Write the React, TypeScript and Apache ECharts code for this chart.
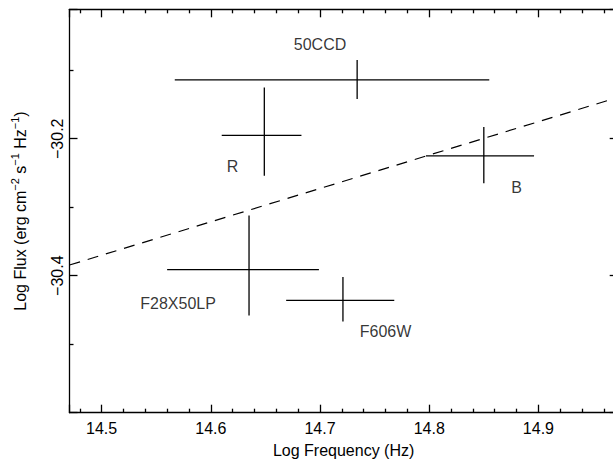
import React, { useEffect, useRef } from "react";
import * as echarts from "echarts";

// Photometric points (log frequency, log flux) with error bars
const pointNames = ["50CCD", "R", "B", "F28X50LP", "F606W"];
const pointX = [14.734, 14.649, 14.85, 14.635, 14.721];
const pointY = [-30.114, -30.195, -30.225, -30.391, -30.436];
const xErrLow = [14.567, 14.61, 14.797, 14.56, 14.669];
const xErrHigh = [14.855, 14.683, 14.896, 14.699, 14.768];
const yErrLow = [-30.142, -30.254, -30.265, -30.458, -30.467];
const yErrHigh = [-30.085, -30.125, -30.183, -30.312, -30.402];

// label anchors (data coordinates)
const labelX = [14.7, 14.62, 14.88, 14.57, 14.76];
const labelY = [-30.063, -30.24, -30.271, -30.44, -30.481];

// dashed model line
const modelX = [14.4706, 14.9726];
const modelY = [-30.3844, -30.1397];

// axes
const xMin = 14.4706;
const xMax = 14.9726;
const yMin = -30.6;
const yMax = -30.011;
const xTickLabels = [14.5, 14.6, 14.7, 14.8, 14.9];
const yTickLabels = [-30.2, -30.4];

const FONT = "Liberation Sans";

export default function App() {
  const ref = useRef<HTMLDivElement>(null);
  useEffect(() => {
    document.body.style.margin = "0";
    const chart = echarts.init(ref.current!, null, { renderer: "svg" });
    const errData = pointNames.map((n, i) => [
      pointX[i], pointY[i], xErrLow[i], xErrHigh[i], yErrLow[i], yErrHigh[i],
    ]);
    const labelData = pointNames.map((n, i) => ({ name: n, value: [labelX[i], labelY[i]] }));
    const axisLine = { show: true, lineStyle: { color: "#000", width: 1.3 } };
    const xTickFmt = (v: number) =>
      xTickLabels.some((t) => Math.abs(t - v) < 1e-6) ? v.toFixed(1) : "";
    const yTickFmt = (v: number) =>
      yTickLabels.some((t) => Math.abs(t - v) < 1e-6) ? "\u2212" + Math.abs(v).toFixed(1) : "";
    const tick = { show: true, inside: true, length: 8, lineStyle: { color: "#000", width: 1.3 } };
    const minor = { show: true, length: 4, lineStyle: { color: "#000", width: 1.3 } };
    const common = {
      type: "value" as const,
      splitLine: { show: false },
      minorSplitLine: { show: false },
      axisLine,
    };
    chart.setOption({
      animation: false,
      backgroundColor: "#fff",
      grid: {
        left: 69.5,
        top: 9.3,
        width: 548.2,
        height: 403.4,
        containLabel: false,
        outerBoundsMode: "none",
      },
      xAxis: [
        {
          ...common,
          position: "bottom",
          min: xMin,
          max: xMax,
          minInterval: 0.1,
          maxInterval: 0.1,
          axisTick: tick,
          minorTick: { ...minor, splitNumber: 5 },
          axisLabel: {
            show: true,
            formatter: xTickFmt,
            showMinLabel: false,
            showMaxLabel: false,
            margin: 8,
            color: "#000",
            fontFamily: FONT,
            fontSize: 16,
          },
          name: "Log Frequency (Hz)",
          nameLocation: "middle",
          nameGap: 30,
          nameTextStyle: { color: "#000", fontFamily: FONT, fontSize: 16 },
        },
        {
          ...common,
          position: "top",
          min: xMin,
          max: xMax,
          minInterval: 0.1,
          maxInterval: 0.1,
          axisTick: tick,
          minorTick: { ...minor, splitNumber: 5 },
          axisLabel: { show: false },
        },
      ],
      yAxis: [
        {
          ...common,
          position: "left",
          min: yMin,
          max: yMax,
          minInterval: 0.2,
          maxInterval: 0.2,
          axisTick: tick,
          minorTick: { ...minor, splitNumber: 2 },
          axisLabel: {
            show: true,
            formatter: yTickFmt,
            rotate: 90,
            margin: 4,
            showMinLabel: false,
            showMaxLabel: false,
            color: "#000",
            fontFamily: FONT,
            fontSize: 16,
          },
          name: "Log Flux (erg cm{s|\u22122} s{s|\u22121} Hz{s|\u22121})",
          nameLocation: "middle",
          nameRotate: 90,
          nameGap: 38,
          nameTextStyle: {
            color: "#000",
            fontFamily: FONT,
            fontSize: 16,
            lineHeight: 22,
            rich: {
              s: { fontSize: 11, fontFamily: FONT, color: "#000", lineHeight: 12, verticalAlign: "top" },
            },
          },
        },
        {
          ...common,
          position: "right",
          min: yMin,
          max: yMax,
          minInterval: 0.2,
          maxInterval: 0.2,
          axisTick: tick,
          minorTick: { ...minor, splitNumber: 2 },
          axisLabel: { show: false },
        },
      ],
      series: [
        {
          type: "line",
          data: modelX.map((x, i) => [x, modelY[i]]),
          symbol: "none",
          lineStyle: { color: "#000", width: 1.2, type: [11, 8] },
          silent: true,
        },
        {
          type: "custom",
          data: errData,
          encode: { x: [0, 2, 3], y: [1, 4, 5] },
          renderItem: (params: any, api: any) => {
            const l = api.coord([api.value(2), api.value(1)]);
            const r = api.coord([api.value(3), api.value(1)]);
            const b = api.coord([api.value(0), api.value(4)]);
            const t = api.coord([api.value(0), api.value(5)]);
            const style = { stroke: "#000", lineWidth: 1.3 };
            return {
              type: "group",
              children: [
                { type: "line", shape: { x1: l[0], y1: l[1], x2: r[0], y2: r[1] }, style },
                { type: "line", shape: { x1: b[0], y1: b[1], x2: t[0], y2: t[1] }, style },
              ],
            };
          },
        },
        {
          type: "scatter",
          data: labelData,
          symbolSize: 0,
          silent: true,
          label: {
            show: true,
            position: "inside",
            formatter: (p: any) => p.name,
            color: "#000",
            fontFamily: FONT,
            fontSize: 16,
          },
        },
      ],
    });
    return () => chart.dispose();
  }, []);
  return <div ref={ref} style={{ width: 613, height: 459 }} />;
}
